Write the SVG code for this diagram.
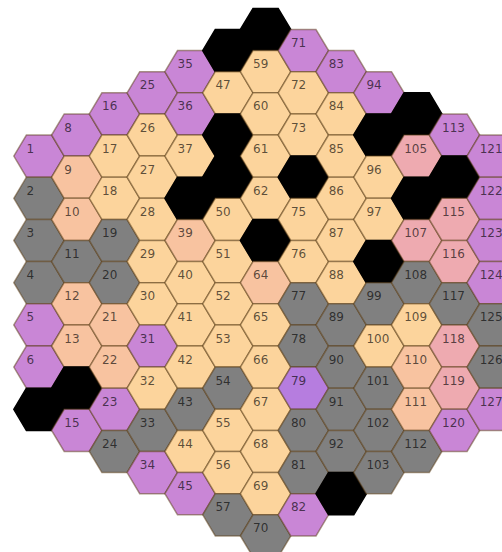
<svg xmlns="http://www.w3.org/2000/svg" xmlns:xlink="http://www.w3.org/1999/xlink" width="502" height="552" viewBox="0 0 502 552">
<style>
use{stroke:#5a3c14;stroke-opacity:.5;stroke-width:1.5}
.lo{fill:#fcd49c}.sa{fill:#f8c3a0}.pk{fill:#eeaab0}.pu{fill:#c986d6}.vi{fill:#b67ddf}.gr{fill:#808080}
.bk{fill:#000}.bk use{stroke:#000;stroke-opacity:1}
text{font-family:"DejaVu Sans",sans-serif;font-size:12px;fill:#000;fill-opacity:.65}
</style>
<defs><polygon id="hx" points="-25.2,0 -12.6,-21.1 12.6,-21.1 25.2,0 12.6,21.1 -12.6,21.1"/></defs>
<rect width="502" height="552" fill="#fff"/>
<g id="nodes">
<g id="h1" class="pu" transform="translate(39,156.1)"><use href="#hx"/><text x="-12.5" y="-3.5">1</text></g>
<g id="h2" class="gr" transform="translate(39,198.3)"><use href="#hx"/><text x="-12.5" y="-3.5">2</text></g>
<g id="h3" class="gr" transform="translate(39,240.5)"><use href="#hx"/><text x="-12.5" y="-3.5">3</text></g>
<g id="h4" class="gr" transform="translate(39,282.7)"><use href="#hx"/><text x="-12.5" y="-3.5">4</text></g>
<g id="h5" class="pu" transform="translate(39,324.9)"><use href="#hx"/><text x="-12.5" y="-3.5">5</text></g>
<g id="h6" class="pu" transform="translate(39,367.1)"><use href="#hx"/><text x="-12.5" y="-3.5">6</text></g>
<g id="h7" class="bk" transform="translate(39,409.3)"><use href="#hx"/></g>
<g id="h8" class="pu" transform="translate(76.8,135)"><use href="#hx"/><text x="-12.5" y="-3.5">8</text></g>
<g id="h9" class="sa" transform="translate(76.8,177.2)"><use href="#hx"/><text x="-12.5" y="-3.5">9</text></g>
<g id="h10" class="sa" transform="translate(76.8,219.4)"><use href="#hx"/><text x="-12.5" y="-3.5">10</text></g>
<g id="h11" class="gr" transform="translate(76.8,261.6)"><use href="#hx"/><text x="-12.5" y="-3.5">11</text></g>
<g id="h12" class="sa" transform="translate(76.8,303.8)"><use href="#hx"/><text x="-12.5" y="-3.5">12</text></g>
<g id="h13" class="sa" transform="translate(76.8,346)"><use href="#hx"/><text x="-12.5" y="-3.5">13</text></g>
<g id="h14" class="bk" transform="translate(76.8,388.2)"><use href="#hx"/></g>
<g id="h15" class="pu" transform="translate(76.8,430.4)"><use href="#hx"/><text x="-12.5" y="-3.5">15</text></g>
<g id="h16" class="pu" transform="translate(114.5,113.9)"><use href="#hx"/><text x="-12.5" y="-3.5">16</text></g>
<g id="h17" class="lo" transform="translate(114.5,156.1)"><use href="#hx"/><text x="-12.5" y="-3.5">17</text></g>
<g id="h18" class="lo" transform="translate(114.5,198.3)"><use href="#hx"/><text x="-12.5" y="-3.5">18</text></g>
<g id="h19" class="gr" transform="translate(114.5,240.5)"><use href="#hx"/><text x="-12.5" y="-3.5">19</text></g>
<g id="h20" class="gr" transform="translate(114.5,282.7)"><use href="#hx"/><text x="-12.5" y="-3.5">20</text></g>
<g id="h21" class="sa" transform="translate(114.5,324.9)"><use href="#hx"/><text x="-12.5" y="-3.5">21</text></g>
<g id="h22" class="sa" transform="translate(114.5,367.1)"><use href="#hx"/><text x="-12.5" y="-3.5">22</text></g>
<g id="h23" class="pu" transform="translate(114.5,409.3)"><use href="#hx"/><text x="-12.5" y="-3.5">23</text></g>
<g id="h24" class="gr" transform="translate(114.5,451.5)"><use href="#hx"/><text x="-12.5" y="-3.5">24</text></g>
<g id="h25" class="pu" transform="translate(152.3,92.8)"><use href="#hx"/><text x="-12.5" y="-3.5">25</text></g>
<g id="h26" class="lo" transform="translate(152.3,135)"><use href="#hx"/><text x="-12.5" y="-3.5">26</text></g>
<g id="h27" class="lo" transform="translate(152.3,177.2)"><use href="#hx"/><text x="-12.5" y="-3.5">27</text></g>
<g id="h28" class="lo" transform="translate(152.3,219.4)"><use href="#hx"/><text x="-12.5" y="-3.5">28</text></g>
<g id="h29" class="lo" transform="translate(152.3,261.6)"><use href="#hx"/><text x="-12.5" y="-3.5">29</text></g>
<g id="h30" class="lo" transform="translate(152.3,303.8)"><use href="#hx"/><text x="-12.5" y="-3.5">30</text></g>
<g id="h31" class="pu" transform="translate(152.3,346)"><use href="#hx"/><text x="-12.5" y="-3.5">31</text></g>
<g id="h32" class="lo" transform="translate(152.3,388.2)"><use href="#hx"/><text x="-12.5" y="-3.5">32</text></g>
<g id="h33" class="gr" transform="translate(152.3,430.4)"><use href="#hx"/><text x="-12.5" y="-3.5">33</text></g>
<g id="h34" class="pu" transform="translate(152.3,472.6)"><use href="#hx"/><text x="-12.5" y="-3.5">34</text></g>
<g id="h35" class="pu" transform="translate(190.1,71.7)"><use href="#hx"/><text x="-12.5" y="-3.5">35</text></g>
<g id="h36" class="pu" transform="translate(190.1,113.9)"><use href="#hx"/><text x="-12.5" y="-3.5">36</text></g>
<g id="h37" class="lo" transform="translate(190.1,156.1)"><use href="#hx"/><text x="-12.5" y="-3.5">37</text></g>
<g id="h38" class="bk" transform="translate(190.1,198.3)"><use href="#hx"/></g>
<g id="h39" class="sa" transform="translate(190.1,240.5)"><use href="#hx"/><text x="-12.5" y="-3.5">39</text></g>
<g id="h40" class="lo" transform="translate(190.1,282.7)"><use href="#hx"/><text x="-12.5" y="-3.5">40</text></g>
<g id="h41" class="lo" transform="translate(190.1,324.9)"><use href="#hx"/><text x="-12.5" y="-3.5">41</text></g>
<g id="h42" class="lo" transform="translate(190.1,367.1)"><use href="#hx"/><text x="-12.5" y="-3.5">42</text></g>
<g id="h43" class="gr" transform="translate(190.1,409.3)"><use href="#hx"/><text x="-12.5" y="-3.5">43</text></g>
<g id="h44" class="lo" transform="translate(190.1,451.5)"><use href="#hx"/><text x="-12.5" y="-3.5">44</text></g>
<g id="h45" class="pu" transform="translate(190.1,493.7)"><use href="#hx"/><text x="-12.5" y="-3.5">45</text></g>
<g id="h46" class="bk" transform="translate(227.9,50.6)"><use href="#hx"/></g>
<g id="h47" class="lo" transform="translate(227.9,92.8)"><use href="#hx"/><text x="-12.5" y="-3.5">47</text></g>
<g id="h48" class="bk" transform="translate(227.9,135)"><use href="#hx"/></g>
<g id="h49" class="bk" transform="translate(227.9,177.2)"><use href="#hx"/></g>
<g id="h50" class="lo" transform="translate(227.9,219.4)"><use href="#hx"/><text x="-12.5" y="-3.5">50</text></g>
<g id="h51" class="lo" transform="translate(227.9,261.6)"><use href="#hx"/><text x="-12.5" y="-3.5">51</text></g>
<g id="h52" class="lo" transform="translate(227.9,303.8)"><use href="#hx"/><text x="-12.5" y="-3.5">52</text></g>
<g id="h53" class="lo" transform="translate(227.9,346)"><use href="#hx"/><text x="-12.5" y="-3.5">53</text></g>
<g id="h54" class="gr" transform="translate(227.9,388.2)"><use href="#hx"/><text x="-12.5" y="-3.5">54</text></g>
<g id="h55" class="lo" transform="translate(227.9,430.4)"><use href="#hx"/><text x="-12.5" y="-3.5">55</text></g>
<g id="h56" class="lo" transform="translate(227.9,472.6)"><use href="#hx"/><text x="-12.5" y="-3.5">56</text></g>
<g id="h57" class="gr" transform="translate(227.9,514.8)"><use href="#hx"/><text x="-12.5" y="-3.5">57</text></g>
<g id="h58" class="bk" transform="translate(265.6,29.5)"><use href="#hx"/></g>
<g id="h59" class="lo" transform="translate(265.6,71.7)"><use href="#hx"/><text x="-12.5" y="-3.5">59</text></g>
<g id="h60" class="lo" transform="translate(265.6,113.9)"><use href="#hx"/><text x="-12.5" y="-3.5">60</text></g>
<g id="h61" class="lo" transform="translate(265.6,156.1)"><use href="#hx"/><text x="-12.5" y="-3.5">61</text></g>
<g id="h62" class="lo" transform="translate(265.6,198.3)"><use href="#hx"/><text x="-12.5" y="-3.5">62</text></g>
<g id="h63" class="bk" transform="translate(265.6,240.5)"><use href="#hx"/></g>
<g id="h64" class="sa" transform="translate(265.6,282.7)"><use href="#hx"/><text x="-12.5" y="-3.5">64</text></g>
<g id="h65" class="lo" transform="translate(265.6,324.9)"><use href="#hx"/><text x="-12.5" y="-3.5">65</text></g>
<g id="h66" class="lo" transform="translate(265.6,367.1)"><use href="#hx"/><text x="-12.5" y="-3.5">66</text></g>
<g id="h67" class="lo" transform="translate(265.6,409.3)"><use href="#hx"/><text x="-12.5" y="-3.5">67</text></g>
<g id="h68" class="lo" transform="translate(265.6,451.5)"><use href="#hx"/><text x="-12.5" y="-3.5">68</text></g>
<g id="h69" class="lo" transform="translate(265.6,493.7)"><use href="#hx"/><text x="-12.5" y="-3.5">69</text></g>
<g id="h70" class="gr" transform="translate(265.6,535.9)"><use href="#hx"/><text x="-12.5" y="-3.5">70</text></g>
<g id="h71" class="pu" transform="translate(303.4,50.6)"><use href="#hx"/><text x="-12.5" y="-3.5">71</text></g>
<g id="h72" class="lo" transform="translate(303.4,92.8)"><use href="#hx"/><text x="-12.5" y="-3.5">72</text></g>
<g id="h73" class="lo" transform="translate(303.4,135)"><use href="#hx"/><text x="-12.5" y="-3.5">73</text></g>
<g id="h74" class="bk" transform="translate(303.4,177.2)"><use href="#hx"/></g>
<g id="h75" class="lo" transform="translate(303.4,219.4)"><use href="#hx"/><text x="-12.5" y="-3.5">75</text></g>
<g id="h76" class="lo" transform="translate(303.4,261.6)"><use href="#hx"/><text x="-12.5" y="-3.5">76</text></g>
<g id="h77" class="gr" transform="translate(303.4,303.8)"><use href="#hx"/><text x="-12.5" y="-3.5">77</text></g>
<g id="h78" class="gr" transform="translate(303.4,346)"><use href="#hx"/><text x="-12.5" y="-3.5">78</text></g>
<g id="h79" class="vi" transform="translate(303.4,388.2)"><use href="#hx"/><text x="-12.5" y="-3.5">79</text></g>
<g id="h80" class="gr" transform="translate(303.4,430.4)"><use href="#hx"/><text x="-12.5" y="-3.5">80</text></g>
<g id="h81" class="gr" transform="translate(303.4,472.6)"><use href="#hx"/><text x="-12.5" y="-3.5">81</text></g>
<g id="h82" class="pu" transform="translate(303.4,514.8)"><use href="#hx"/><text x="-12.5" y="-3.5">82</text></g>
<g id="h83" class="pu" transform="translate(341.2,71.7)"><use href="#hx"/><text x="-12.5" y="-3.5">83</text></g>
<g id="h84" class="lo" transform="translate(341.2,113.9)"><use href="#hx"/><text x="-12.5" y="-3.5">84</text></g>
<g id="h85" class="lo" transform="translate(341.2,156.1)"><use href="#hx"/><text x="-12.5" y="-3.5">85</text></g>
<g id="h86" class="lo" transform="translate(341.2,198.3)"><use href="#hx"/><text x="-12.5" y="-3.5">86</text></g>
<g id="h87" class="lo" transform="translate(341.2,240.5)"><use href="#hx"/><text x="-12.5" y="-3.5">87</text></g>
<g id="h88" class="lo" transform="translate(341.2,282.7)"><use href="#hx"/><text x="-12.5" y="-3.5">88</text></g>
<g id="h89" class="gr" transform="translate(341.2,324.9)"><use href="#hx"/><text x="-12.5" y="-3.5">89</text></g>
<g id="h90" class="gr" transform="translate(341.2,367.1)"><use href="#hx"/><text x="-12.5" y="-3.5">90</text></g>
<g id="h91" class="gr" transform="translate(341.2,409.3)"><use href="#hx"/><text x="-12.5" y="-3.5">91</text></g>
<g id="h92" class="gr" transform="translate(341.2,451.5)"><use href="#hx"/><text x="-12.5" y="-3.5">92</text></g>
<g id="h93" class="bk" transform="translate(341.2,493.7)"><use href="#hx"/></g>
<g id="h94" class="pu" transform="translate(378.9,92.8)"><use href="#hx"/><text x="-12.5" y="-3.5">94</text></g>
<g id="h95" class="bk" transform="translate(378.9,135)"><use href="#hx"/></g>
<g id="h96" class="lo" transform="translate(378.9,177.2)"><use href="#hx"/><text x="-12.5" y="-3.5">96</text></g>
<g id="h97" class="lo" transform="translate(378.9,219.4)"><use href="#hx"/><text x="-12.5" y="-3.5">97</text></g>
<g id="h98" class="bk" transform="translate(378.9,261.6)"><use href="#hx"/></g>
<g id="h99" class="gr" transform="translate(378.9,303.8)"><use href="#hx"/><text x="-12.5" y="-3.5">99</text></g>
<g id="h100" class="lo" transform="translate(378.9,346)"><use href="#hx"/><text x="-12.5" y="-3.5">100</text></g>
<g id="h101" class="gr" transform="translate(378.9,388.2)"><use href="#hx"/><text x="-12.5" y="-3.5">101</text></g>
<g id="h102" class="gr" transform="translate(378.9,430.4)"><use href="#hx"/><text x="-12.5" y="-3.5">102</text></g>
<g id="h103" class="gr" transform="translate(378.9,472.6)"><use href="#hx"/><text x="-12.5" y="-3.5">103</text></g>
<g id="h104" class="bk" transform="translate(416.7,113.9)"><use href="#hx"/></g>
<g id="h105" class="pk" transform="translate(416.7,156.1)"><use href="#hx"/><text x="-12.5" y="-3.5">105</text></g>
<g id="h106" class="bk" transform="translate(416.7,198.3)"><use href="#hx"/></g>
<g id="h107" class="pk" transform="translate(416.7,240.5)"><use href="#hx"/><text x="-12.5" y="-3.5">107</text></g>
<g id="h108" class="gr" transform="translate(416.7,282.7)"><use href="#hx"/><text x="-12.5" y="-3.5">108</text></g>
<g id="h109" class="lo" transform="translate(416.7,324.9)"><use href="#hx"/><text x="-12.5" y="-3.5">109</text></g>
<g id="h110" class="sa" transform="translate(416.7,367.1)"><use href="#hx"/><text x="-12.5" y="-3.5">110</text></g>
<g id="h111" class="sa" transform="translate(416.7,409.3)"><use href="#hx"/><text x="-12.5" y="-3.5">111</text></g>
<g id="h112" class="gr" transform="translate(416.7,451.5)"><use href="#hx"/><text x="-12.5" y="-3.5">112</text></g>
<g id="h113" class="pu" transform="translate(454.5,135)"><use href="#hx"/><text x="-12.5" y="-3.5">113</text></g>
<g id="h114" class="bk" transform="translate(454.5,177.2)"><use href="#hx"/></g>
<g id="h115" class="pk" transform="translate(454.5,219.4)"><use href="#hx"/><text x="-12.5" y="-3.5">115</text></g>
<g id="h116" class="pk" transform="translate(454.5,261.6)"><use href="#hx"/><text x="-12.5" y="-3.5">116</text></g>
<g id="h117" class="gr" transform="translate(454.5,303.8)"><use href="#hx"/><text x="-12.5" y="-3.5">117</text></g>
<g id="h118" class="pk" transform="translate(454.5,346)"><use href="#hx"/><text x="-12.5" y="-3.5">118</text></g>
<g id="h119" class="pk" transform="translate(454.5,388.2)"><use href="#hx"/><text x="-12.5" y="-3.5">119</text></g>
<g id="h120" class="pu" transform="translate(454.5,430.4)"><use href="#hx"/><text x="-12.5" y="-3.5">120</text></g>
<g id="h121" class="pu" transform="translate(492.2,156.1)"><use href="#hx"/><text x="-12.5" y="-3.5">121</text></g>
<g id="h122" class="pu" transform="translate(492.2,198.3)"><use href="#hx"/><text x="-12.5" y="-3.5">122</text></g>
<g id="h123" class="pu" transform="translate(492.2,240.5)"><use href="#hx"/><text x="-12.5" y="-3.5">123</text></g>
<g id="h124" class="pu" transform="translate(492.2,282.7)"><use href="#hx"/><text x="-12.5" y="-3.5">124</text></g>
<g id="h125" class="gr" transform="translate(492.2,324.9)"><use href="#hx"/><text x="-12.5" y="-3.5">125</text></g>
<g id="h126" class="gr" transform="translate(492.2,367.1)"><use href="#hx"/><text x="-12.5" y="-3.5">126</text></g>
<g id="h127" class="pu" transform="translate(492.2,409.3)"><use href="#hx"/><text x="-12.5" y="-3.5">127</text></g>
</g>
</svg>
